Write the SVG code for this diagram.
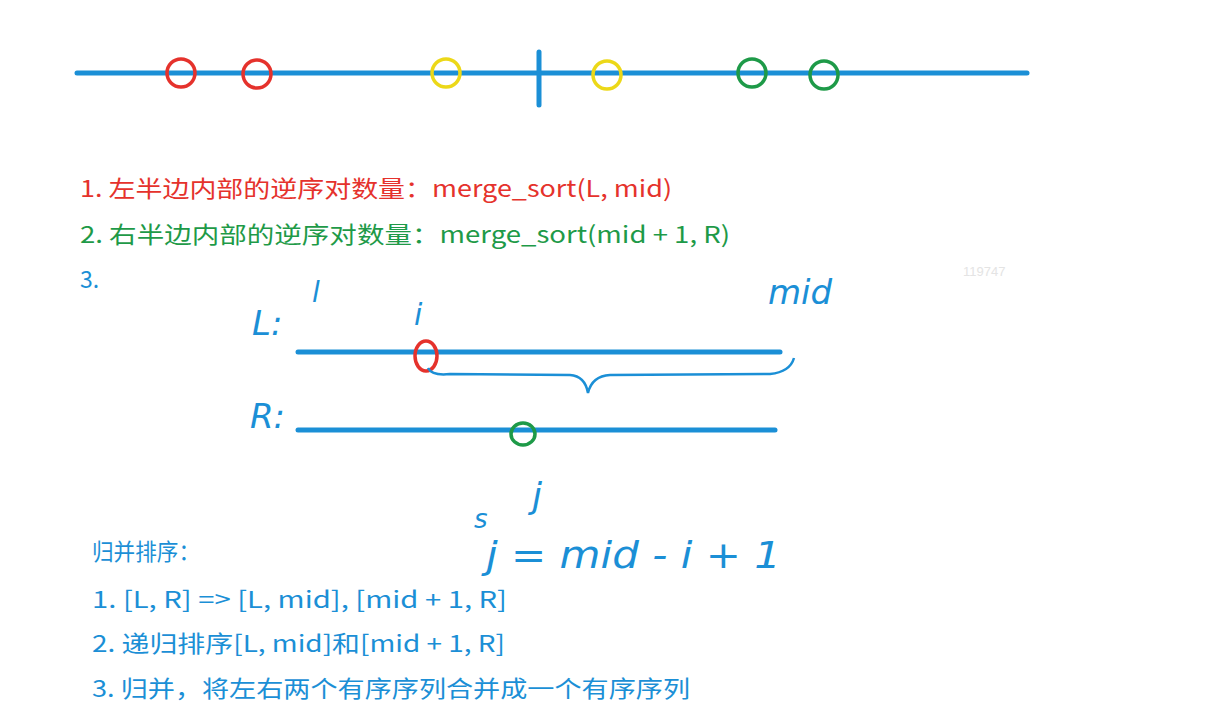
<svg xmlns="http://www.w3.org/2000/svg" width="1211" height="719" viewBox="0 0 1211 719">
<style>
.ln{stroke:#1b8fd6;stroke-width:5;fill:none;stroke-linecap:round}
.c{fill:none;stroke-width:3.5}
.t{font-family:"Noto Sans CJK SC",sans-serif;font-size:23px}
.h{font-family:"DejaVu Sans",sans-serif;fill:#1b8fd6;font-style:italic}
</style>
<rect width="1211" height="719" fill="#fff"/>
<g id="axis">
<line class="ln" x1="77" y1="73" x2="1027" y2="73"/>
<line class="ln" x1="539" y1="52" x2="539" y2="105" stroke-width="4"/>
</g>
<g id="points">
<circle class="c" cx="181" cy="73" r="14" stroke="#e5322c"/>
<circle class="c" cx="257" cy="74" r="14" stroke="#e5322c"/>
<circle class="c" cx="446" cy="73" r="14" stroke="#ecd818"/>
<circle class="c" cx="607" cy="75" r="14" stroke="#ecd818"/>
<circle class="c" cx="752" cy="73" r="14" stroke="#1e9a48"/>
<circle class="c" cx="824" cy="75" r="14" stroke="#1e9a48"/>
</g>
<g id="text1" class="t">
<text x="80" y="197" fill="#e5322c" textLength="592" lengthAdjust="spacingAndGlyphs">1. 左半边内部的逆序对数量：merge_sort(L, mid)</text>
<text x="80" y="243" fill="#1e9a48" textLength="650" lengthAdjust="spacingAndGlyphs">2. 右半边内部的逆序对数量：merge_sort(mid + 1, R)</text>
<text x="80" y="288" fill="#1b8fd6">3.</text>
<text x="963" y="276" fill="#e4e4e4" font-size="13" font-family="Liberation Sans,sans-serif">119747</text>
</g>
<g id="sketch">
<line class="ln" x1="298" y1="352" x2="780" y2="352"/>
<line class="ln" x1="298" y1="430" x2="775" y2="430"/>
<ellipse class="c" cx="426" cy="356" rx="11" ry="15" stroke="#e5322c"/>
<ellipse class="c" cx="523" cy="434" rx="12" ry="11" stroke="#1e9a48"/>
<path d="M428 368 Q432 376 450 374 L570 375 Q585 376 588 393 Q592 376 610 375 L770 374 Q790 372 794 358" fill="none" stroke="#1b8fd6" stroke-width="2.5"/>
<text class="h" x="252" y="335" font-size="34">L:</text>
<text class="h" x="312" y="302" font-size="28">l</text>
<text class="h" x="414" y="325" font-size="30">i</text>
<text class="h" x="768" y="304" font-size="34">mid</text>
<text class="h" x="250" y="428" font-size="34">R:</text>
<text class="h" x="532" y="508" font-size="36">j</text>
<text class="h" x="474" y="528" font-size="26">s</text>
<text class="h" x="486" y="568" font-size="38" textLength="295" lengthAdjust="spacingAndGlyphs">j = mid - i + 1</text>
</g>
<g id="text2" class="t" fill="#1b8fd6">
<text x="92" y="560" textLength="108" lengthAdjust="spacingAndGlyphs">归并排序：</text>
<text x="92" y="608" textLength="415" lengthAdjust="spacingAndGlyphs">1. [L, R] =&gt; [L, mid], [mid + 1, R]</text>
<text x="92" y="652" textLength="413" lengthAdjust="spacingAndGlyphs">2. 递归排序[L, mid]和[mid + 1, R]</text>
<text x="92" y="697" textLength="598" lengthAdjust="spacingAndGlyphs">3. 归并，将左右两个有序序列合并成一个有序序列</text>
</g>
</svg>
